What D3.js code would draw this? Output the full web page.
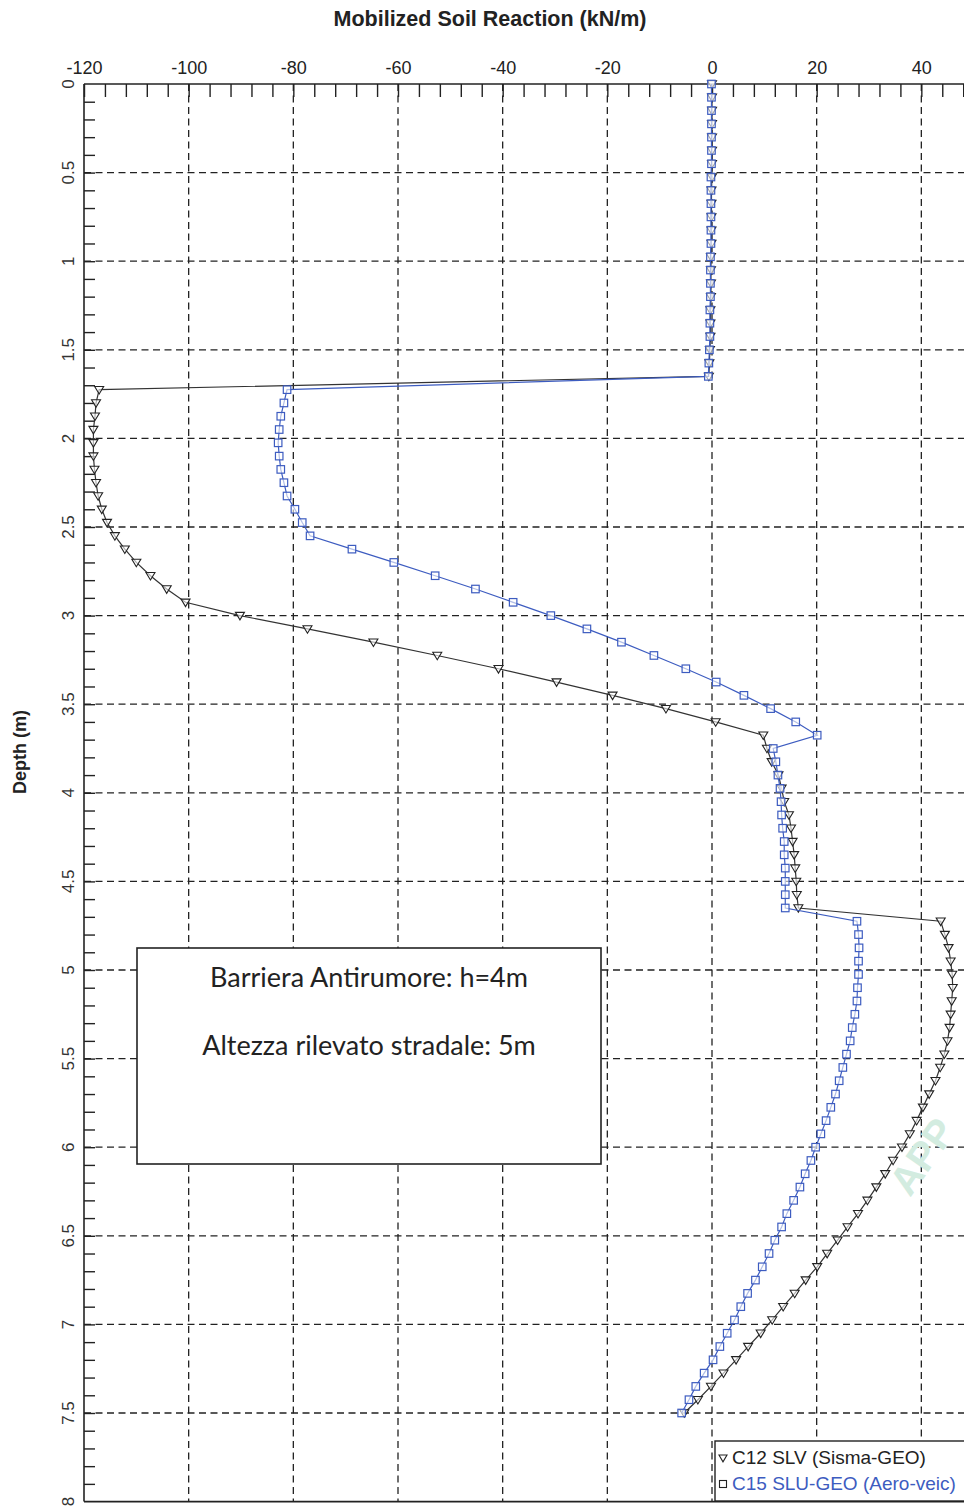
<!DOCTYPE html>
<html>
<head>
<meta charset="utf-8">
<script src="https://cdn.jsdelivr.net/npm/d3@7/dist/d3.min.js"></script>
<style>
  html, body { margin: 0; padding: 0; background: #fff; }
  svg { display: block; }
</style>
</head>
<body>
<svg id="chart" width="964" height="1509"></svg>
<script>
// ---------------- DATA ----------------
const depths = [
  0, 0.075, 0.15, 0.225, 0.3, 0.375, 0.45, 0.525, 0.6, 0.675,
  0.75, 0.825, 0.9, 0.975, 1.05, 1.125, 1.2, 1.275, 1.35, 1.425,
  1.5, 1.575, 1.65, 1.725, 1.8, 1.875, 1.95, 2.025, 2.1, 2.175,
  2.25, 2.325, 2.4, 2.475, 2.55, 2.625, 2.7, 2.775, 2.85, 2.925,
  3.0, 3.075, 3.15, 3.225, 3.3, 3.375, 3.45, 3.525, 3.6, 3.675,
  3.75, 3.825, 3.9, 3.975, 4.05, 4.125, 4.2, 4.275, 4.35, 4.425,
  4.5, 4.575, 4.65, 4.725, 4.8, 4.875, 4.95, 5.025, 5.1, 5.175,
  5.25, 5.325, 5.4, 5.475, 5.55, 5.625, 5.7, 5.775, 5.85, 5.925,
  6.0, 6.075, 6.15, 6.225, 6.3, 6.375, 6.45, 6.525, 6.6, 6.675,
  6.75, 6.825, 6.9, 6.975, 7.05, 7.125, 7.2, 7.275, 7.35, 7.425,
  7.5
];

const seriesC12 = [ // C12 SLV (Sisma-GEO), kN/m
  0, 0, 0, 0, 0, 0, 0, 0, -0.1, -0.1,
  -0.1, -0.1, -0.1, -0.2, -0.2, -0.2, -0.2, -0.3, -0.3, -0.3,
  -0.4, -0.5, -0.6, -117.1, -117.7, -117.9, -118.2, -118.2, -118.2, -118.0,
  -117.7, -117.3, -116.6, -115.6, -114.1, -112.2, -110.0, -107.3, -104.2, -100.6,
  -90.2, -77.3, -64.7, -52.5, -40.8, -29.7, -19.0, -8.8, 0.7, 9.8,
  10.5, 11.4, 12.7, 13.3, 13.8, 14.7, 15.1, 15.4, 15.7, 15.9,
  16.1, 16.2, 16.5, 43.7, 44.5, 45.2, 45.6, 45.9, 46.0, 45.8,
  45.6, 45.4, 45.0, 44.4, 43.6, 42.7, 41.5, 40.3, 39.1, 37.8,
  36.3, 34.6, 33.1, 31.4, 29.7, 27.9, 25.9, 24.0, 22.0, 20.1,
  17.9, 15.8, 13.6, 11.5, 9.3, 6.9, 4.6, 2.2, -0.2, -2.7,
  -5.3
];

const seriesC15 = [ // C15 SLU-GEO (Aero-veic), kN/m
  -0.1, -0.1, -0.1, -0.1, -0.1, -0.1, -0.1, -0.2, -0.2, -0.2,
  -0.2, -0.2, -0.2, -0.3, -0.3, -0.3, -0.3, -0.4, -0.4, -0.4,
  -0.5, -0.6, -0.7, -81.2, -81.8, -82.4, -82.7, -82.9, -82.7, -82.4,
  -81.8, -81.2, -79.7, -78.3, -76.8, -68.8, -60.8, -52.9, -45.2, -38.0,
  -30.8, -23.9, -17.3, -11.1, -5.0, 0.8, 6.1, 11.2, 16.0, 20.1,
  11.7, 12.2, 12.6, 13.0, 13.2, 13.3, 13.5, 13.8, 13.8, 14.0,
  14.0, 14.0, 14.0, 27.7, 28.0, 28.1, 28.0, 28.0, 27.8, 27.7,
  27.3, 26.8, 26.4, 25.7, 25.0, 24.3, 23.6, 22.7, 21.8, 20.8,
  19.8, 18.9, 17.8, 16.8, 15.6, 14.3, 13.3, 12.0, 10.9, 9.6,
  8.3, 6.8, 5.5, 4.3, 2.9, 1.5, 0.2, -1.5, -3.1, -4.4,
  -5.8
];

const xTickLabels = [-120, -100, -80, -60, -40, -20, 0, 20, 40];
const xMinorTicks = [-120, -116, -112, -108, -104, -100, -96, -92, -88, -84, -80, -76, -72, -68, -64, -60, -56, -52, -48, -44, -40, -36, -32, -28, -24, -20, -16, -12, -8, -4, 0, 4, 8, 12, 16, 20, 24, 28, 32, 36, 40, 44, 48];
const xGrid = [-100, -80, -60, -40, -20, 0, 20, 40];
const yTickLabels = [0, 0.5, 1, 1.5, 2, 2.5, 3, 3.5, 4, 4.5, 5, 5.5, 6, 6.5, 7, 7.5, 8];
const yTickText = ["0", "0.5", "1", "1.5", "2", "2.5", "3", "3.5", "4", "4.5", "5", "5.5", "6", "6.5", "7", "7.5", "8"];
const yMinorTicks = [0.1,0.2,0.3,0.4,0.5,0.6,0.7,0.8,0.9,1,1.1,1.2,1.3,1.4,1.5,1.6,1.7,1.8,1.9,2,2.1,2.2,2.3,2.4,2.5,2.6,2.7,2.8,2.9,3,3.1,3.2,3.3,3.4,3.5,3.6,3.7,3.8,3.9,4,4.1,4.2,4.3,4.4,4.5,4.6,4.7,4.8,4.9,5,5.1,5.2,5.3,5.4,5.5,5.6,5.7,5.8,5.9,6,6.1,6.2,6.3,6.4,6.5,6.6,6.7,6.8,6.9,7,7.1,7.2,7.3,7.4,7.5,7.6,7.7,7.8,7.9];
const yGrid = [0.5, 1, 1.5, 2, 2.5, 3, 3.5, 4, 4.5, 5, 5.5, 6, 6.5, 7, 7.5];

const titleText = "Mobilized Soil Reaction (kN/m)";
const yAxisTitle = "Depth (m)";
const legendLabels = ["C12 SLV (Sisma-GEO)", "C15 SLU-GEO (Aero-veic)"];
const noteLines = ["Barriera Antirumore: h=4m", "Altezza rilevato stradale: 5m"];
const watermarkText = "APP";

// ---------------- LAYOUT ----------------
const svg = d3.select("#chart");
const plotLeft = 84, plotTop = 84, plotBottom = 1501.6;
const x = d3.scaleLinear().domain([-120, 50]).range([plotLeft, plotLeft + 170 * (628 / 120)]);
const y = d3.scaleLinear().domain([0, 8]).range([plotTop, plotBottom]);
const W = 964;

const blueCol = "#3d5cc0";
const font = "'Liberation Sans', Arial, sans-serif";

// Title
svg.append("text")
  .attr("x", 490).attr("y", 26)
  .attr("text-anchor", "middle")
  .attr("font-family", font).attr("font-weight", "bold").attr("font-size", 21.5)
  .attr("fill", "#222")
  .text(titleText);

// Grid
const grid = svg.append("g").attr("stroke", "#222").attr("stroke-width", 1.3).attr("stroke-dasharray", "7,4.5");
grid.selectAll(".gx").data(xGrid).join("line")
  .attr("x1", d => x(d)).attr("x2", d => x(d))
  .attr("y1", plotTop).attr("y2", plotBottom);
grid.selectAll(".gy").data(yGrid).join("line")
  .attr("x1", plotLeft).attr("x2", W)
  .attr("y1", d => y(d)).attr("y2", d => y(d));

// Top axis labels
const topAxis = d3.axisTop(x).tickValues(xTickLabels).tickSize(0).tickPadding(10).tickFormat(d => String(d));
const gTop = svg.append("g").attr("transform", `translate(0,${plotTop})`).call(topAxis);
gTop.select(".domain").remove();
gTop.selectAll("text").attr("font-family", font).attr("font-size", 18).attr("fill", "#222");

// Top minor ticks (inside)
const topTicks = d3.axisBottom(x).tickValues(xMinorTicks).tickSize(13).tickFormat("");
const gTopT = svg.append("g").attr("transform", `translate(0,${plotTop})`).call(topTicks);
gTopT.select(".domain").remove();
gTopT.selectAll("line").attr("stroke", "#222").attr("stroke-width", 1.4);

// Left minor ticks (inside)
const leftTicks = d3.axisRight(y).tickValues(yMinorTicks).tickSize(11).tickFormat("");
const gLeftT = svg.append("g").attr("transform", `translate(${plotLeft},0)`).call(leftTicks);
gLeftT.select(".domain").remove();
gLeftT.selectAll("line").attr("stroke", "#222").attr("stroke-width", 1.4);

// Left labels (rotated)
svg.append("g").selectAll("text").data(yTickLabels).join("text")
  .attr("transform", d => `translate(74,${y(d)}) rotate(-90)`)
  .attr("text-anchor", "middle")
  .attr("font-family", font).attr("font-size", 17).attr("fill", "#333")
  .text((d, i) => yTickText[i]);

// Y-axis title
svg.append("text")
  .attr("transform", `translate(26,752) rotate(-90)`)
  .attr("text-anchor", "middle")
  .attr("font-family", font).attr("font-weight", "bold").attr("font-size", 18)
  .attr("fill", "#222")
  .text(yAxisTitle);

// Frame
const frame = svg.append("g").attr("stroke", "#222").attr("stroke-width", 1.6).attr("fill", "none");
frame.append("line").attr("x1", plotLeft).attr("x2", W).attr("y1", plotTop).attr("y2", plotTop);
frame.append("line").attr("x1", plotLeft).attr("x2", W).attr("y1", plotBottom).attr("y2", plotBottom);
frame.append("line").attr("x1", plotLeft).attr("x2", plotLeft).attr("y1", plotTop).attr("y2", plotBottom);

// Watermark
svg.append("text")
  .attr("transform", "translate(910,1198) rotate(-55)")
  .attr("font-family", font).attr("font-weight", "bold").attr("font-size", 40)
  .attr("fill", "#d3ece0")
  .text(watermarkText);

// Series
const lineGen = d3.line().x(d => x(d[1])).y(d => y(d[0]));
const dataC12 = depths.map((d, i) => [d, seriesC12[i]]);
const dataC15 = depths.map((d, i) => [d, seriesC15[i]]);

const triPath = "M-4.5,-3.2 L4.5,-3.2 L0,4.3 Z";
const sqSize = 7.5;

svg.append("path").datum(dataC12)
  .attr("d", lineGen).attr("fill", "none").attr("stroke", "#333").attr("stroke-width", 1.2);
svg.append("g").selectAll("path").data(dataC12).join("path")
  .attr("transform", d => `translate(${x(d[1])},${y(d[0])})`)
  .attr("d", triPath).attr("fill", "#fff").attr("fill-opacity", 0.6)
  .attr("stroke", "#222").attr("stroke-width", 1.1);

svg.append("path").datum(dataC15)
  .attr("d", lineGen).attr("fill", "none").attr("stroke", blueCol).attr("stroke-width", 1.2);
svg.append("g").selectAll("rect").data(dataC15).join("rect")
  .attr("x", d => x(d[1]) - sqSize / 2).attr("y", d => y(d[0]) - sqSize / 2)
  .attr("width", sqSize).attr("height", sqSize)
  .attr("fill", "#fff").attr("fill-opacity", 0.6)
  .attr("stroke", blueCol).attr("stroke-width", 1.2);

// Note box
svg.append("rect")
  .attr("x", 137).attr("y", 948).attr("width", 464).attr("height", 216)
  .attr("fill", "#fff").attr("stroke", "#222").attr("stroke-width", 1.6);
svg.append("g").selectAll("text").data(noteLines).join("text")
  .attr("x", 369).attr("y", (d, i) => 987 + i * 68)
  .attr("text-anchor", "middle")
  .attr("font-family", "Lato, 'Open Sans', sans-serif").attr("font-size", 27)
  .attr("fill", "#222")
  .text(d => d);

// Legend
svg.append("rect")
  .attr("x", 715).attr("y", 1441).attr("width", 270).attr("height", 60)
  .attr("fill", "#fff").attr("stroke", "#222").attr("stroke-width", 1.4);
svg.append("path")
  .attr("transform", "translate(723,1458)")
  .attr("d", "M-4,-3 L4,-3 L0,3.8 Z").attr("fill", "none").attr("stroke", "#222").attr("stroke-width", 1.1);
svg.append("rect")
  .attr("x", 719.5).attr("y", 1480.5).attr("width", 7).attr("height", 7)
  .attr("fill", "none").attr("stroke", "#222").attr("stroke-width", 1.1);
svg.append("text")
  .attr("x", 732).attr("y", 1464)
  .attr("font-family", font).attr("font-size", 19).attr("fill", "#222")
  .text(legendLabels[0]);
svg.append("text")
  .attr("x", 732).attr("y", 1490)
  .attr("font-family", font).attr("font-size", 19).attr("fill", blueCol)
  .text(legendLabels[1]);
</script>
</body>
</html>
